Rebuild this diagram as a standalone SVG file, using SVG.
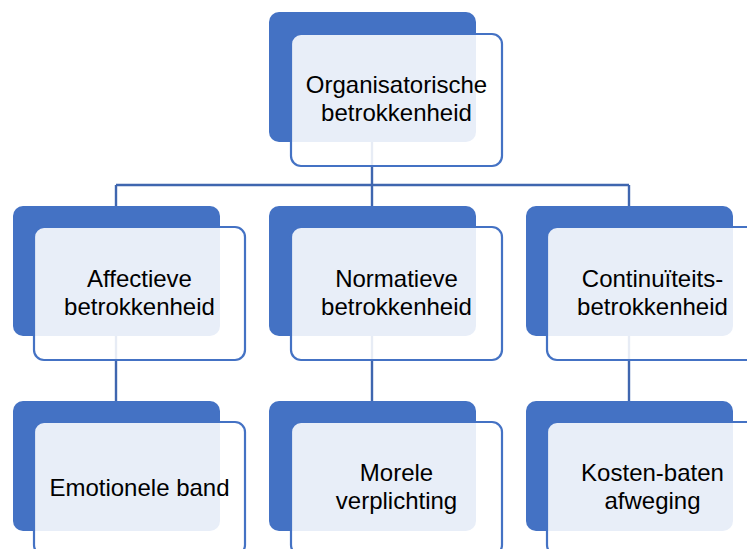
<svg xmlns="http://www.w3.org/2000/svg" width="747" height="549" viewBox="0 0 747 549">
<style>
.back{fill:#4472C4;}
.front{fill:#FFFFFF;fill-opacity:0.88;stroke:#4472C4;stroke-width:2.2;}
.lbl{font-family:"Liberation Sans",Arial,sans-serif;font-size:24px;fill:#000000;text-anchor:middle;}
.conn{fill:none;stroke:#3F66AF;stroke-width:2.4;}
</style>
<rect width="747" height="549" fill="#FFFFFF"/>
<g id="connectors">
<path class="conn" d="M372,142 V185 M116,185 H629 M116,185 V207 M372,185 V207 M629,185 V207"/>
<path class="conn" d="M116,336 V401 M372,336 V401 M629,336 V401"/>
</g>
<g id="n-org">
<rect class="back" x="269" y="12" width="207" height="130" rx="10"/>
<rect class="front" x="291" y="34" width="211" height="132" rx="10"/>
<text class="lbl" x="396.5" y="93">Organisatorische</text>
<text class="lbl" x="396.5" y="121">betrokkenheid</text>
</g>
<g id="n-aff">
<rect class="back" x="13" y="206" width="207" height="130" rx="10"/>
<rect class="front" x="34" y="227" width="211" height="133" rx="10"/>
<text class="lbl" x="139.5" y="287">Affectieve</text>
<text class="lbl" x="139.5" y="315">betrokkenheid</text>
</g>
<g id="n-norm">
<rect class="back" x="269" y="206" width="207" height="130" rx="10"/>
<rect class="front" x="291" y="227" width="211" height="133" rx="10"/>
<text class="lbl" x="396.5" y="287">Normatieve</text>
<text class="lbl" x="396.5" y="315">betrokkenheid</text>
</g>
<g id="n-cont">
<rect class="back" x="526" y="206" width="207" height="130" rx="10"/>
<rect class="front" x="547" y="227" width="211" height="133" rx="10"/>
<text class="lbl" x="652.5" y="287">Continuïteits-</text>
<text class="lbl" x="652.5" y="315">betrokkenheid</text>
</g>
<g id="n-emo">
<rect class="back" x="13" y="401" width="207" height="130" rx="10"/>
<rect class="front" x="34" y="422" width="211" height="133" rx="10"/>
<text class="lbl" x="139.5" y="496">Emotionele band</text>
</g>
<g id="n-mor">
<rect class="back" x="269" y="401" width="207" height="130" rx="10"/>
<rect class="front" x="291" y="422" width="211" height="133" rx="10"/>
<text class="lbl" x="396.5" y="481">Morele</text>
<text class="lbl" x="396.5" y="509">verplichting</text>
</g>
<g id="n-kos">
<rect class="back" x="526" y="401" width="207" height="130" rx="10"/>
<rect class="front" x="547" y="422" width="211" height="133" rx="10"/>
<text class="lbl" x="652.5" y="481">Kosten-baten</text>
<text class="lbl" x="652.5" y="509">afweging</text>
</g>
</svg>
